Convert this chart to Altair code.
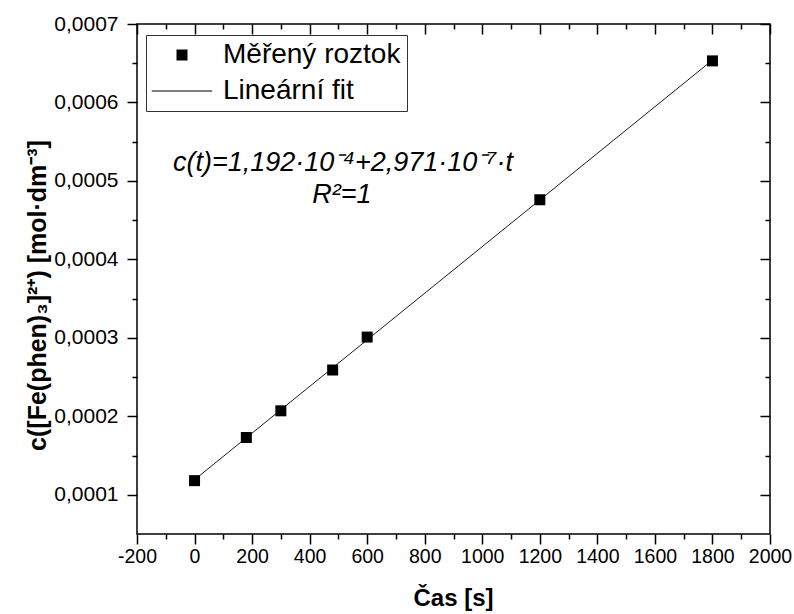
import altair as alt
import pandas as pd

# ---- data ----
t_s = [0, 180, 300, 480, 600, 1200, 1800]
c_mol = [0.000118, 0.000173, 0.000207, 0.000259, 0.000301, 0.000476, 0.000653]
fit_t = [0, 1800]
fit_c = [0.0001192, 0.0006540]
series = ["Měřený roztok", "Lineární fit"]
x_major = [-200, 0, 200, 400, 600, 800, 1000, 1200, 1400, 1600, 1800, 2000]
x_minor = [-100, 100, 300, 500, 700, 900, 1100, 1300, 1500, 1700, 1900]
y_major = [0.0001, 0.0002, 0.0003, 0.0004, 0.0005, 0.0006, 0.0007]
y_minor = [0.00015, 0.00025, 0.00035, 0.00045, 0.00055, 0.00065]
equation = "c(t)=1,192·10⁻⁴+2,971·10⁻⁷·t"
r_squared = "R²=1"
x_title = "Čas [s]"
y_title = "c([Fe(phen)₃]²⁺) [mol·dm⁻³]"

FONT = "Liberation Sans"

pts = pd.DataFrame({"t": t_s, "c": c_mol, "series": [series[0]] * len(t_s)})
fit = pd.DataFrame({"t": fit_t, "c": fit_c})
eq_df = pd.DataFrame({"txt": [equation]})
r2_df = pd.DataFrame({"txt": [r_squared]})

xs = alt.Scale(domain=[-200, 2000], nice=False, zero=False)
ys = alt.Scale(domain=[0.00005, 0.0007], nice=False, zero=False)

ylab = "replace(format(datum.value, '.4f'), '.', ',')"
xlab = "'' + datum.value"

# legend symbols: a filled square and a thin filled bar standing for the fit line
LINE_SYMBOL = "M-5.5,-0.09H5.5V0.09H-5.5Z"

points = alt.Chart(pts).mark_point(filled=True, size=121, color="black", opacity=1).encode(
    x=alt.X("t:Q", scale=xs, axis=alt.Axis(
        orient="bottom", values=x_major, tickSize=10, tickWidth=1.5, tickColor="black",
        domain=False, grid=False, labelExpr=xlab, labelFont=FONT, labelFontSize=19.5,
        labelColor="black", labelPadding=3, labelFlush=False, labelOverlap=False,
        title=x_title, titleFont=FONT, titleFontSize=24, titleFontWeight="bold",
        titleColor="black", titleX=316, titleY=64, titleBaseline="middle")),
    y=alt.Y("c:Q", scale=ys, axis=alt.Axis(
        orient="left", values=y_major, tickSize=10, tickWidth=1.5, tickColor="black",
        domain=False, grid=False, labelExpr=ylab, labelFont=FONT, labelFontSize=21,
        labelColor="black", labelPadding=9, labelFlush=False, labelOverlap=False,
        title=y_title, titleFont=FONT, titleFontSize=25, titleFontWeight="bold",
        titleColor="black", titleX=-100, titleY=271, titleAngle=-90,
        titleBaseline="middle", titleAlign="center")),
    shape=alt.Shape("series:N",
        scale=alt.Scale(domain=series, range=["square", LINE_SYMBOL]),
        legend=alt.Legend(title=None, orient="none", legendX=9, legendY=11,
            symbolSize=121, symbolFillColor="black", symbolStrokeColor="black",
            symbolStrokeWidth=0, symbolOffset=16, labelOffset=27,
            labelFont=FONT, labelFontSize=28, labelColor="black", labelLimit=400,
            padding=6, rowPadding=8, strokeColor="#333", fillColor="white")),
)

line = alt.Chart(fit).mark_line(color="black", strokeWidth=0.9).encode(
    x=alt.X("t:Q", scale=xs, axis=None),
    y=alt.Y("c:Q", scale=ys, axis=None),
)

def tick_layer(xorient, yorient, xvals, yvals, size, offset):
    return alt.Chart(pts).mark_point(opacity=0).encode(
        x=alt.X("t:Q", scale=xs, axis=alt.Axis(
            orient=xorient, values=xvals, tickSize=size, tickWidth=1.5,
            tickColor="black", domain=False, grid=False, labels=False,
            title=None, offset=offset)),
        y=alt.Y("c:Q", scale=ys, axis=alt.Axis(
            orient=yorient, values=yvals, tickSize=size, tickWidth=1.5,
            tickColor="black", domain=False, grid=False, labels=False,
            title=None, offset=offset)),
    )

minor_bl = tick_layer("bottom", "left", x_minor, y_minor, 5, 0)
major_tr = tick_layer("top", "right", x_major, y_major, 10, -10)
minor_tr = tick_layer("top", "right", x_minor, y_minor, 5, -5)

eq = alt.Chart(eq_df).mark_text(font=FONT, fontSize=27, fontStyle="italic",
                                 color="black", align="center", baseline="middle").encode(
    x=alt.value(206), y=alt.value(139), text="txt:N")
r2 = alt.Chart(r2_df).mark_text(font=FONT, fontSize=27, fontStyle="italic",
                                 color="black", align="center", baseline="middle").encode(
    x=alt.value(205), y=alt.value(171), text="txt:N")

chart = alt.layer(points, line, minor_bl, major_tr, minor_tr, eq, r2).resolve_axis(
    x="independent", y="independent"
).properties(
    width=633, height=510,
    padding={"left": 137, "top": 24, "right": 24, "bottom": 80},
    autosize=alt.AutoSizeParams(type="none"),
    background="white",
).configure_view(stroke="black", strokeWidth=1.5)

chart.save("out.html", embed_options={"renderer": "svg", "actions": False})
